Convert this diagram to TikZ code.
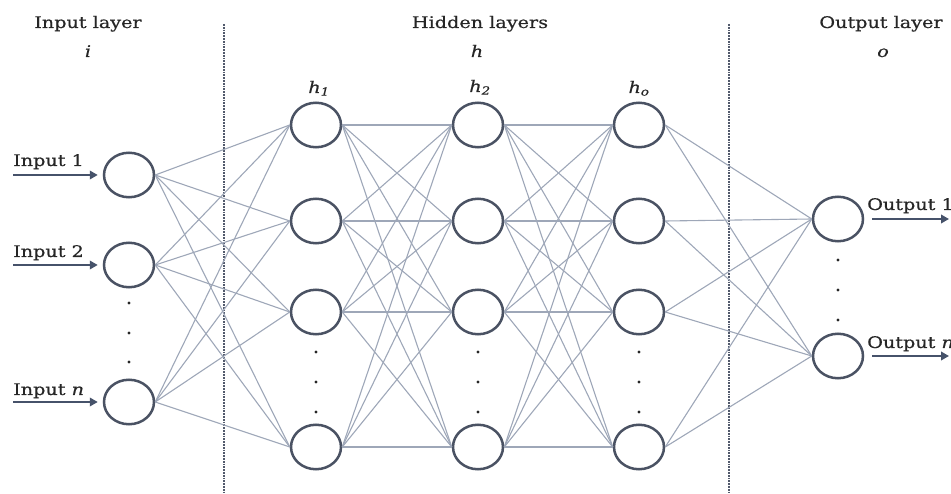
\documentclass[tikz,border=0pt]{standalone}
\usepackage{fontspec}
\setmainfont{DejaVu Serif}[FakeStretch=1.2, FakeBold=0.45]
\usetikzlibrary{shapes.geometric,arrows.meta}
\definecolor{ringcol}{HTML}{4A5263}
\definecolor{wirecol}{HTML}{9EA7B8}
\definecolor{arrcol}{HTML}{46526A}
\definecolor{sepcol}{HTML}{525A6C}
\definecolor{inkcol}{HTML}{262626}

\begin{document}
\begin{tikzpicture}[x=1pt,y=-1pt,
  neuron/.style={ellipse, draw=ringcol, line width=2.5pt, fill=white,
                 minimum width=50pt, minimum height=44.5pt, inner sep=0pt},
  wire/.style={draw=wirecol, line width=1.1pt},
  sepline/.style={draw=sepcol, line width=1.8pt, dash pattern=on 1.8pt off 1pt},
  feed/.style={draw=arrcol, line width=2.6pt, -{Triangle[length=8pt,width=8.5pt]}},
  lab/.style={inner sep=0pt, text=inkcol, font=\fontsize{16}{19}\selectfont},
  ital/.style={lab, font=\fontsize{16}{19}\selectfont\itshape},
  dotmark/.style={fill=inkcol}
]
\useasboundingbox (0,0) rectangle (951,494);

% layer separators
\coordinate (s1t) at (224,24);
\coordinate (s1b) at (224,494);
\coordinate (s2t) at (729,24);
\coordinate (s2b) at (729,494);
\draw[sepline] (s1t) -- (s1b);
\draw[sepline] (s2t) -- (s2b);

% neurons
\foreach \i/\y in {1/175,2/265,3/402}
  \node[neuron] (a\i) at (129,\y) {};
\foreach \col/\x in {b/316,c/478,d/639}
  \foreach \r/\y in {1/125,2/221,3/312,4/447}
    \node[neuron] (\col\r) at (\x,\y) {};
\node[neuron] (o1) at (838,219) {};
\node[neuron] (o2) at (838,356) {};

% connections
\foreach \i in {1,2,3}
  \foreach \j in {1,...,4}
    \draw[wire] (a\i.east) -- (b\j.west);
\foreach \i in {1,...,4}
  \foreach \j in {1,...,4} {
    \draw[wire] (b\i.east) -- (c\j.west);
    \draw[wire] (c\i.east) -- (d\j.west);
  }
\foreach \i in {1,...,4}
  \foreach \j in {1,2}
    \draw[wire] (d\i.east) -- (o\j.west);

% ellipsis dots
\foreach \y in {303,333,362}
  \fill[dotmark] (129,\y) circle[radius=1.7pt];
\foreach \x in {316,478,639}
  \foreach \y in {352,382,412}
    \fill[dotmark] (\x,\y) circle[radius=1.7pt];
\foreach \y in {260,290,320}
  \fill[dotmark] (838,\y) circle[radius=1.7pt];

% titles
\node[lab, anchor=base] (ti) at (88,28) {Input layer};
\node[ital, anchor=base] (tis) at (88,57) {i};
\node[lab, anchor=base] (th) at (480,28) {Hidden layers};
\node[ital, anchor=base] (ths) at (477,57) {h};
\node[lab, anchor=base] (to) at (881,28) {Output layer};
\node[ital, anchor=base] (tos) at (883,57) {o};

\node[ital, anchor=base] (hb) at (319,93) {h\textsubscript{1}};
\node[ital, anchor=base] (hc) at (480,92) {h\textsubscript{2}};
\node[ital, anchor=base] (hd) at (639,93) {h\textsubscript{o}};

% inputs
\node[lab, anchor=base west] (l1) at (13,166) {Input 1};
\node[lab, anchor=base west] (l2) at (13,257) {Input 2};
\node[lab, anchor=base west] (l3) at (13,395) {Input \textit{n}};
\coordinate (p1) at (13,175);
\coordinate (p2) at (13,265);
\coordinate (p3) at (13,402);
\foreach \i in {1,2,3}
  \draw[feed, shorten >=5pt] (p\i) -- (a\i);

% outputs
\node[lab, anchor=base west] (r1) at (867,210) {Output 1};
\node[lab, anchor=base west] (r2) at (867,348) {Output \textit{n}};
\coordinate (q1) at (949,219);
\coordinate (q2) at (949,356);
\foreach \i in {1,2}
  \draw[feed, shorten <=8pt] (o\i) -- (q\i);
\end{tikzpicture}
\end{document}
